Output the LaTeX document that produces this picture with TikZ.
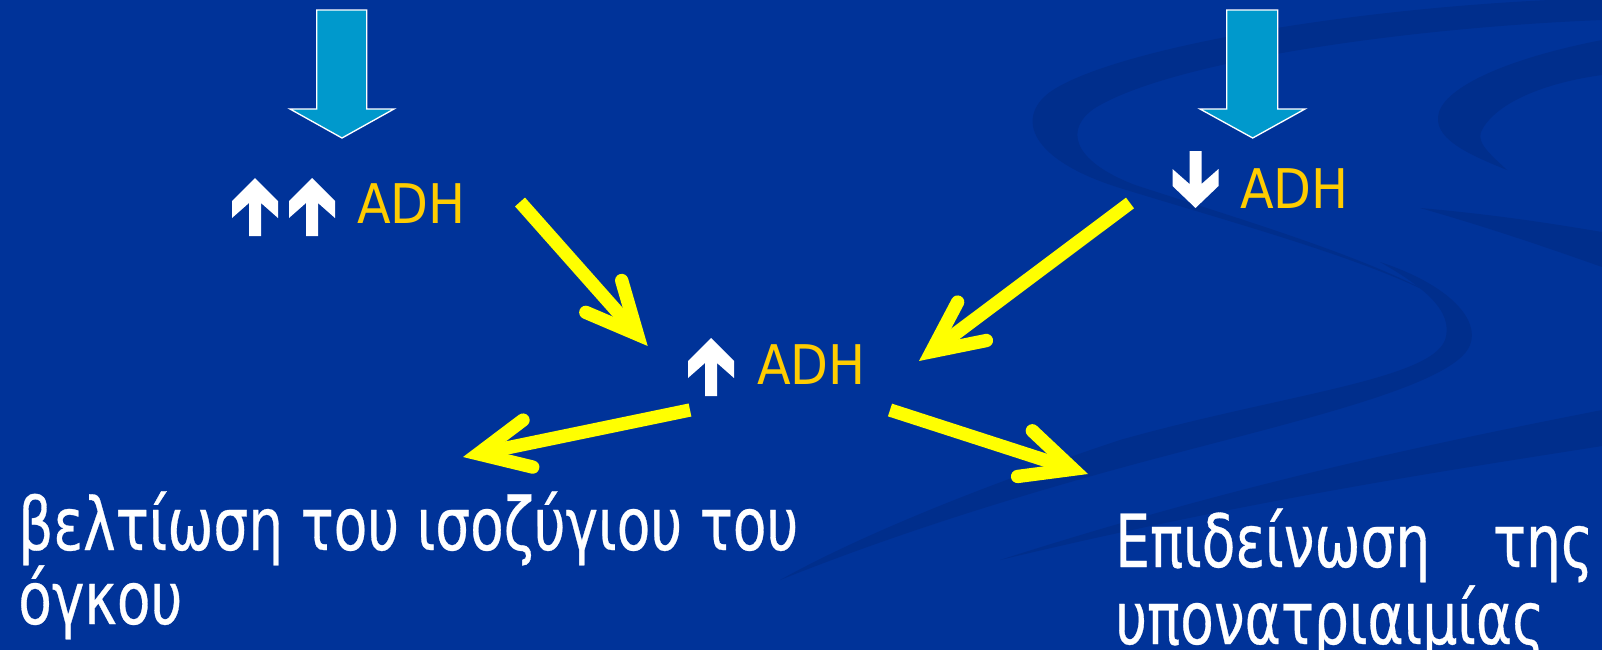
\documentclass[tikz,border=0pt]{standalone}
\usepackage{fontspec}
\setmainfont{DejaVu Sans}
\newfontfamily\grfont[FakeStretch=0.75,FakeBold=0.4]{DejaVu Sans}
\newfontfamily\adhfont[FakeStretch=0.9]{DejaVu Sans}
\usetikzlibrary{arrows.meta}
\definecolor{bgblue}{RGB}{0,51,153}
\definecolor{bandblue}{RGB}{0,46,140}
\definecolor{arrcyan}{RGB}{0,153,204}
\definecolor{adhgold}{RGB}{255,204,0}
\definecolor{arryellow}{RGB}{255,255,0}
\begin{document}
\begin{tikzpicture}[x=0.75pt,y=-0.75pt,
  band/.style={fill=bandblue},
  bigarrow/.style={fill=arrcyan,draw=white,line width=1pt,line join=miter},
  adh/.style={text=adhgold,font=\adhfont\fontsize{41}{41}\selectfont,inner sep=0pt,anchor=base west},
  grtext/.style={text=white,font=\grfont\fontsize{55}{60}\selectfont,inner sep=0pt,anchor=base west},
  yarrow/.style={draw=arryellow,line width=10pt,line cap=butt,
    -{Straight Barb[length=38pt,width=36pt,line cap=round,line join=miter]}},
  uparr/.pic={\fill[white] (0,0) -- (23,23) -- (23,40) -- (6,25) -- (6,58) -- (-6,58) -- (-6,25) -- (-23,40) -- (-23,23) -- cycle;},
  downarr/.pic={\fill[white] (-6,0) -- (6,0) -- (6,33) -- (23,18) -- (23,35) -- (0,57) -- (-23,35) -- (-23,18) -- (-6,33) -- cycle;}
]
\useasboundingbox (0,0) rectangle (1602,650);
\fill[bgblue] (0,0) rectangle (1602,650);

% background swirls
\fill[band] (1602,-2) .. controls (1350,5) and (1110,50) .. (1050,92)
  .. controls (1015,118) and (1030,160) .. (1120,188)
  .. controls (1250,228) and (1400,268) .. (1462,312)
  .. controls (1395,265) and (1255,224) .. (1135,185)
  .. controls (1070,160) and (1065,128) .. (1095,108)
  .. controls (1170,62) and (1400,28) .. (1602,20) -- cycle;
\fill[band] (1380,262) .. controls (1450,285) and (1480,320) .. (1470,345)
  .. controls (1455,385) and (1300,420) .. (1150,460)
  .. controls (1000,500) and (880,540) .. (780,580)
  .. controls (870,530) and (1000,480) .. (1120,440)
  .. controls (1280,395) and (1430,380) .. (1445,340)
  .. controls (1455,310) and (1420,285) .. (1380,262) -- cycle;
\fill[band] (1602,410) .. controls (1450,440) and (1250,480) .. (1000,560)
  .. controls (1250,500) and (1450,470) .. (1602,446) -- cycle;
\fill[band] (1602,40) .. controls (1500,60) and (1440,90) .. (1438,117)
  .. controls (1436,140) and (1470,155) .. (1507,170)
  .. controls (1485,150) and (1475,140) .. (1483,128)
  .. controls (1500,100) and (1550,82) .. (1602,75) -- cycle;
\fill[band] (1420,208) .. controls (1500,215) and (1560,225) .. (1602,232)
  -- (1602,267) .. controls (1540,245) and (1480,225) .. (1420,208) -- cycle;

% cyan block arrows
\draw[bigarrow] (316.7,10) -- (366.7,10) -- (366.7,109) -- (394,109) -- (342,138) -- (290,109) -- (316.7,109) -- cycle;
\draw[bigarrow] (1226.7,10) -- (1277.7,10) -- (1277.7,109) -- (1305,109) -- (1252.7,138) -- (1200,109) -- (1226.7,109) -- cycle;

% white small arrows
\pic at (255,178) {uparr};
\pic at (312,178) {uparr};
\pic at (711,338) {uparr};
\pic at (1195.5,151) {downarr};

% ADH labels
\node[adh] (adhA) at (357,223) {ADH};
\node[adh] (adhB) at (1240,208) {ADH};
\node[adh] (adhC) at (757,384) {ADH};

% Greek texts
\node[grtext] (left1) at (18,550) {βελτίωση του ισοζύγιου του};
\node[grtext] (left2) at (18,624) {όγκου};
\node[grtext] (right1) at (1115,567) {\hbox to 358.5pt{Επιδείνωση\hfill της}};
\node[grtext] (right2) at (1115,644) {υπονατριαιμίας};

% yellow arrows
\coordinate (a1s) at (520,202);  \coordinate (a1e) at (647.7,346);
\coordinate (a2s) at (1130,203); \coordinate (a2e) at (919,361);
\coordinate (a3s) at (690,410);  \coordinate (a3e) at (463,457);
\coordinate (a4s) at (890,410);  \coordinate (a4e) at (1088,474);
\draw[yarrow] (a1s) -- (a1e);
\draw[yarrow] (a2s) -- (a2e);
\draw[yarrow] (a3s) -- (a3e);
\draw[yarrow] (a4s) -- (a4e);
\end{tikzpicture}
\end{document}
